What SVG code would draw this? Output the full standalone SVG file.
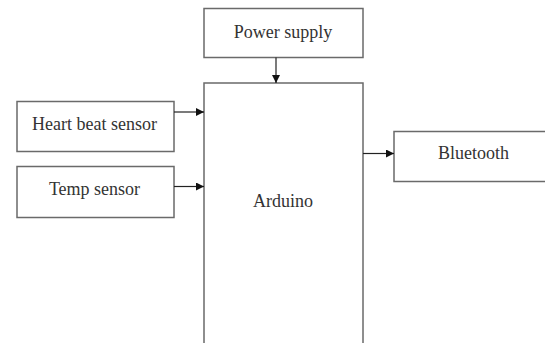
<svg xmlns="http://www.w3.org/2000/svg" width="545" height="343" viewBox="0 0 545 343">
<style>
.box{fill:#fff;stroke:#6a6a6a;stroke-width:1.5}
.lbl{font-family:"Liberation Serif","Times New Roman",serif;font-size:18px;fill:#333;text-anchor:middle}
.conn{stroke:#222;stroke-width:1.2;fill:none;marker-end:url(#ah)}
</style>
<defs>
<marker id="ah" viewBox="0 0 10 10" refX="10" refY="5" markerWidth="8" markerHeight="8" markerUnits="userSpaceOnUse" orient="auto">
<path d="M0,0 L10,5 L0,10 z" fill="#111"/>
</marker>
</defs>
<rect width="545" height="343" fill="#fff"/>
<g id="power">
<rect class="box" x="204" y="8.5" width="159" height="49"/>
<text class="lbl" x="283" y="38">Power supply</text>
</g>
<g id="arduino">
<rect class="box" x="204" y="83" width="159" height="275"/>
<text class="lbl" x="283" y="207">Arduino</text>
</g>
<g id="heartbeat">
<rect class="box" x="17" y="101.5" width="157" height="50"/>
<text class="lbl" x="94.5" y="130">Heart beat sensor</text>
</g>
<g id="temp">
<rect class="box" x="17" y="166.5" width="157" height="51"/>
<text class="lbl" x="94.5" y="195">Temp sensor</text>
</g>
<g id="bluetooth">
<rect class="box" x="394" y="131.5" width="160" height="50"/>
<text class="lbl" x="473.5" y="159">Bluetooth</text>
</g>
<g id="connectors">
<line class="conn" x1="276" y1="57.5" x2="276" y2="83"/>
<line class="conn" x1="174" y1="112" x2="204" y2="112"/>
<line class="conn" x1="174" y1="186.5" x2="204" y2="186.5"/>
<line class="conn" x1="363" y1="153.5" x2="394" y2="153.5"/>
</g>
</svg>
